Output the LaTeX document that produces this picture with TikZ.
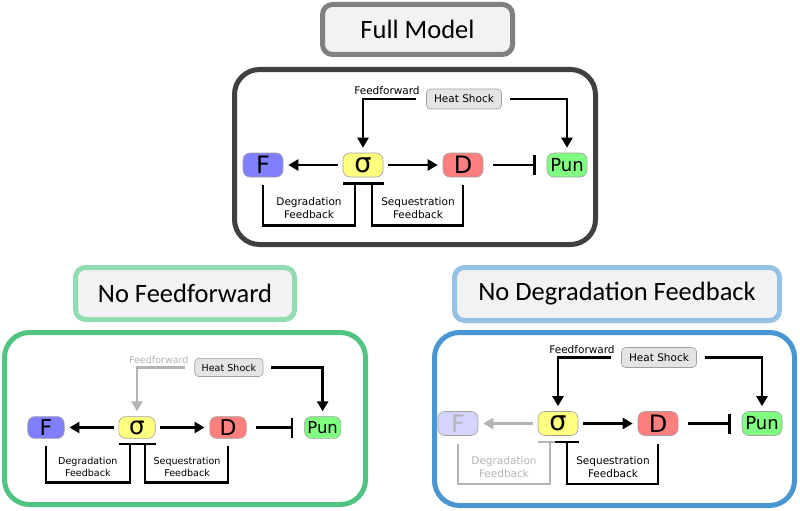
\documentclass[tikz,border=0pt]{standalone}
\usepackage{fontspec}
\setmainfont{DejaVu Sans}
\newfontfamily\titlefont{Carlito}
\usetikzlibrary{arrows.meta,calc}
\definecolor{fcol}{HTML}{7F7FFF}
\definecolor{fcolfade}{HTML}{D4D4FF}
\definecolor{scol}{HTML}{FFFF80}
\definecolor{dcol}{HTML}{FF7F7F}
\definecolor{pcol}{HTML}{80FF80}
\definecolor{hscol}{HTML}{E4E4E4}
\definecolor{nodeborder}{HTML}{A0A0A0}
\definecolor{fadegray}{HTML}{B4B4B4}
\definecolor{titlefill}{HTML}{F2F2F2}
\definecolor{graytitle}{HTML}{808080}
\definecolor{darkbox}{HTML}{404040}
\definecolor{greenbox}{HTML}{50C480}
\definecolor{greentitle}{HTML}{92DCB2}
\definecolor{bluebox}{HTML}{4A96D2}
\definecolor{bluetitle}{HTML}{94C2E4}
\tikzset{
  nd/.style={draw=nodeborder, line width=0.6pt, rounded corners=7pt, minimum width=40pt, minimum height=24pt, inner sep=0pt},
  arr/.style={line width=2.4pt, -{Triangle[length=10pt,width=11pt]}},
  inh/.style={line width=2.4pt, -{Bar[width=20pt,line width=2.4pt]}},
  fb/.style={line width=2.4pt},
  lbl/.style={font=\fontsize{10.5}{13}\selectfont, align=center, inner sep=0pt},
  titlebox/.style={line width=5pt, rounded corners=10pt, fill=titlefill, font=\titlefont\fontsize{26.5}{30}\selectfont},
  panelbox/.style={line width=5pt, rounded corners=25pt}
}
% #1 prefix, #2 x, #3 y, #4 scale, #5 feedforward colour, #6 degradation colour, #7 F fill, #8 F text
\newcommand\drawpanel[8]{%
\begin{scope}[shift={(#2,#3)}, scale=#4, transform shape]
  \node[nd, fill=#7, text=#8, font=\fontsize{24}{24}\selectfont] (#1F) at (-100,0) {F};
  \node[nd, fill=scol, font=\fontsize{27}{27}\selectfont] (#1S) at (0,0) {σ};
  \node[nd, fill=dcol, font=\fontsize{24}{24}\selectfont] (#1D) at (100,0) {D};
  \node[nd, fill=pcol, font=\fontsize{18}{18}\selectfont] (#1P) at (204,0) {Pun};
  \node[nd, fill=hscol, rounded corners=4pt, minimum width=75pt, minimum height=20pt, font=\fontsize{10.5}{12}\selectfont] (#1HS) at (101,-66) {Heat Shock};
  \node[lbl, text=#5] (#1fft) at (24,-74) {Feedforward};
  \draw[arr, draw=#5, shorten <=10pt, shorten >=5pt] (#1HS.west) -| (#1S.north);
  \draw[arr, shorten <=8pt, shorten >=5pt] (#1HS.east) -| (#1P.north);
  \draw[arr, draw=#6, shorten <=5pt, shorten >=5pt] (#1S.west) -- (#1F.east);
  \draw[arr, shorten <=5pt, shorten >=5pt] (#1S.east) -- (#1D.west);
  \draw[inh, shorten <=10pt, shorten >=11pt] (#1D.east) -- (#1P.west);
  \draw[fb, draw=#6] ($(#1F.south)+(0,8)$) |- ($(#1S.south)+(-8,48)$) -- ($(#1S.south)+(-8,6)$);
  \draw[fb, draw=#6] ($(#1S.south)+(-20,6)$) -- ($(#1S.south)+(4,6)$);
  \draw[fb] ($(#1D.south)+(0,8)$) |- ($(#1S.south)+(9,48)$) -- ($(#1S.south)+(9,6)$);
  \draw[fb] ($(#1S.south)+(-3,6)$) -- ($(#1S.south)+(21,6)$);
  \node[lbl, text=#6] (#1dl) at (-54,43.5) {Degradation\\Feedback};
  \node[lbl] (#1sl) at (55,43.5) {Sequestration\\Feedback};
\end{scope}}
\begin{document}
\begin{tikzpicture}[x=1pt,y=-1pt]
  \path[use as bounding box] (0,0) rectangle (800,511);
  % panel frames
  \draw[panelbox, draw=darkbox] (234.5,69.5) rectangle (595.5,244.5);
  \draw[panelbox, draw=greenbox] (4.5,332.5) rectangle (365.5,504.5);
  \draw[panelbox, draw=bluebox] (434.5,332.5) rectangle (794.5,505.5);
  % titles
  \node[titlebox, draw=graytitle, minimum width=190pt, minimum height=50pt] (t1) at (417.5,29.5) {Full Model};
  \node[titlebox, draw=greentitle, minimum width=219pt, minimum height=52pt] (t2) at (185,293.5) {No Feedforward};
  \node[titlebox, draw=bluetitle, minimum width=325pt, minimum height=53pt] (t3) at (617,294) {No Degradation Feedback};
  % panels
  \drawpanel{a}{363}{165}{1}{black}{black}{fcol}{black}
  \drawpanel{b}{137}{427.5}{0.91}{fadegray}{black}{fcol}{black}
  \drawpanel{c}{558}{423.5}{1}{black}{fadegray}{fcolfade}{fadegray}
\end{tikzpicture}
\end{document}
